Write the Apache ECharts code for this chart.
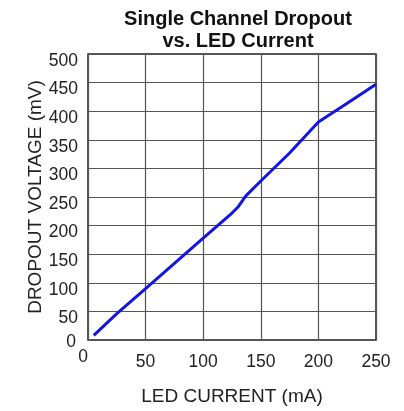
<!DOCTYPE html>
<html>
<head>
<meta charset="utf-8">
<script src="https://cdn.jsdelivr.net/npm/echarts@6/dist/echarts.min.js"></script>
<style>html,body{margin:0;padding:0;background:#fff}#c{width:404px;height:411px}</style>
</head>
<body>
<div id="c"></div>
<script>
const titleText = "Single Channel Dropout\nvs. LED Current";
const xName = "LED CURRENT (mA)";
const yName = "DROPOUT VOLTAGE (mV)";
const current = [5, 25, 50, 75, 100, 125, 130, 137, 150, 175, 200, 225, 250];
const dropout = [8, 46, 90, 134, 178, 222, 232, 252, 278, 327, 381, 414, 447];

const chart = echarts.init(document.getElementById('c'), null, {renderer: 'canvas'});
const font = 'Liberation Sans, Arial, sans-serif';
const zeroFmt = v => v === 0 ? '{z|0}' : String(v);
chart.setOption({
  animation: false,
  backgroundColor: '#fff',
  title: {
    text: titleText,
    left: 233, top: 3, textAlign: 'center',
    textStyle: {fontFamily: font, fontSize: 20, fontWeight: 'bold', color: '#111', lineHeight: 22}
  },
  grid: {left: 88, right: 28, top: 54, bottom: 71, show: true, borderColor: '#222', borderWidth: 1.5, backgroundColor: 'transparent'},
  xAxis: {
    type: 'value', min: 0, max: 250, interval: 50,
    name: xName, nameLocation: 'middle', nameGap: 47, nameMoveOverlap: false,
    nameTextStyle: {fontFamily: font, fontSize: 19, color: '#222'},
    axisLine: {show: false}, axisTick: {show: false},
    axisLabel: {
      fontFamily: font, fontSize: 17.5, color: '#222', margin: 31, verticalAlign: 'bottom',
      formatter: zeroFmt,
      rich: {z: {fontFamily: font, fontSize: 17.5, color: '#222', padding: [0, 10, 5, 0]}}
    },
    splitLine: {show: true, lineStyle: {color: '#555', width: 1.2}}
  },
  yAxis: {
    type: 'value', min: 0, max: 500, interval: 50,
    name: yName, nameLocation: 'middle', nameGap: 43, nameMoveOverlap: false,
    nameTextStyle: {fontFamily: font, fontSize: 19, color: '#222'},
    axisLine: {show: false}, axisTick: {show: false},
    axisLabel: {
      fontFamily: font, fontSize: 17.5, color: '#222', margin: 10, padding: [14, 0, 0, 0],
      formatter: zeroFmt,
      rich: {z: {fontFamily: font, fontSize: 17.5, color: '#222', padding: [0, 2, 9, 0]}}
    },
    splitLine: {show: true, lineStyle: {color: '#555', width: 1.2}}
  },
  series: [{
    type: 'line',
    data: current.map((c, i) => [c, dropout[i]]),
    showSymbol: false, smooth: false,
    lineStyle: {color: '#1414e6', width: 3}
  }]
});
</script>
</body>
</html>
